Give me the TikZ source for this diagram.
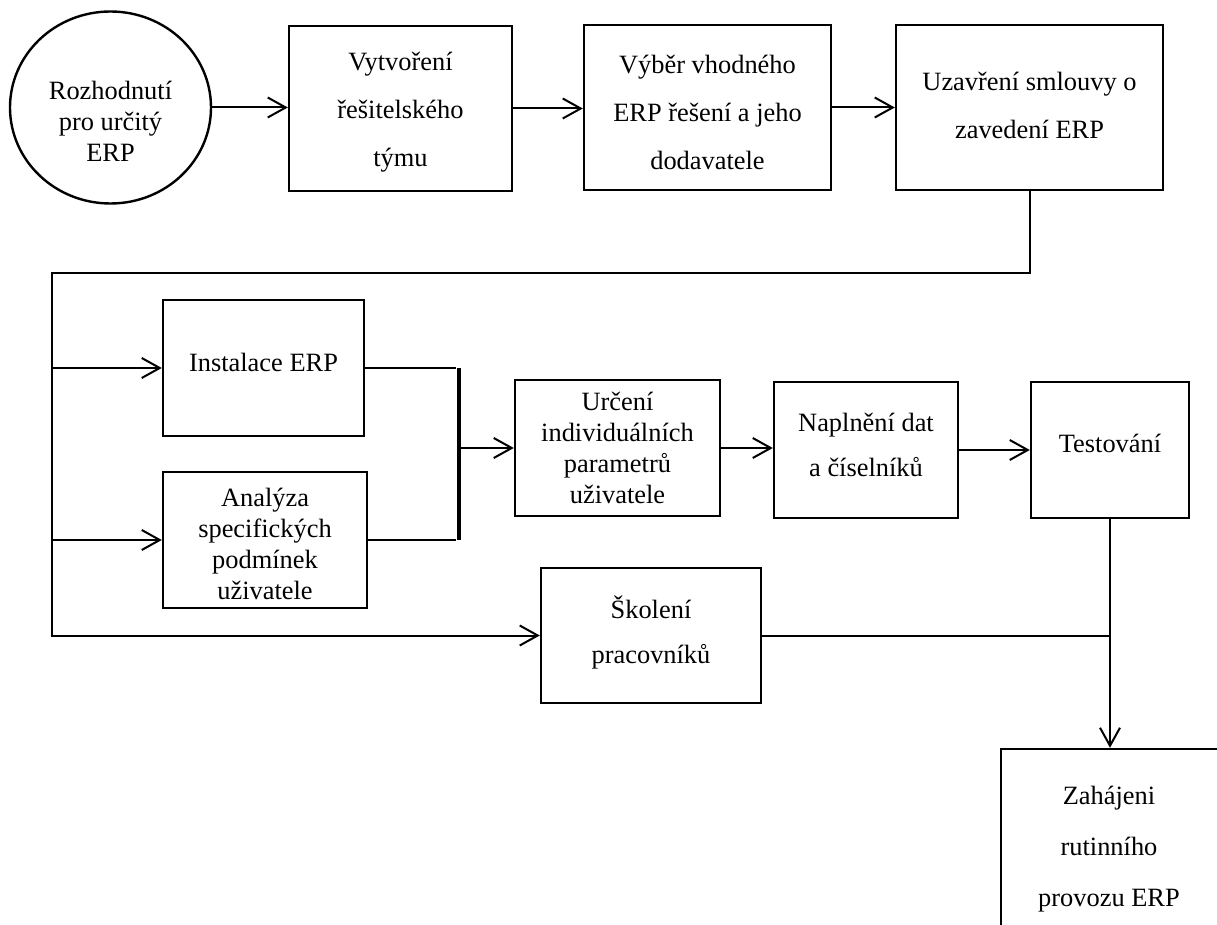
\documentclass[tikz,border=0pt]{standalone}
\usepackage{fontspec}
\setmainfont{Liberation Serif}
\usetikzlibrary{arrows.meta,shapes.geometric}
\begin{document}
\begin{tikzpicture}[x=0.5pt,y=-0.5pt,
  box/.style={draw, line width=1.2pt, inner sep=0pt},
  lbl/.style={align=center, inner sep=0pt},
  wide/.style={font=\fontsize{13.2}{24}\selectfont},
  tight/.style={font=\fontsize{13.2}{15.5}\selectfont},
  mid/.style={font=\fontsize{13.2}{22.5}\selectfont},
  conn/.style={line width=1pt},
  arr/.style={conn, -{Straight Barb[length=9pt,width=10pt]}},
]
\useasboundingbox (0,0) rectangle (1217,925);
\clip (0,0) rectangle (1217,925);

% first row: frames
\node[draw, ellipse, line width=1.2pt, inner sep=0pt, minimum width=100.5pt, minimum height=96pt] (circ) at (110.5,107.5) {};
\node[box, minimum width=111.5pt, minimum height=82.5pt] (b1) at (400.5,108.5) {};
\node[box, minimum width=123.5pt, minimum height=82.5pt] (b2) at (707.5,107.5) {};
\node[box, minimum width=133.5pt, minimum height=82.5pt] (b3) at (1029.5,107.5) {};

% second row: frames
\node[box, minimum width=100.5pt, minimum height=68pt] (inst) at (263.5,368) {};
\node[box, minimum width=102pt, minimum height=68pt] (anal) at (265,540) {};
\node[box, minimum width=102.5pt, minimum height=68pt] (urc) at (617.5,448) {};
\node[box, minimum width=92pt, minimum height=68pt] (napl) at (866,450) {};
\node[box, minimum width=79pt, minimum height=68pt] (test) at (1110,450) {};
\node[box, minimum width=110pt, minimum height=67.5pt] (skol) at (651,635.5) {};

% final step, running off the page edge
\node[box, minimum width=108.5pt, minimum height=105.5pt] (zah) at (1109.5,854.5) {};

% texts
\node[lbl, tight] (circtxt) at (110.5,121) {Rozhodnutí\\pro určitý\\ERP};
\node[lbl, wide] (b1txt) at (400.5,112.5) {Vytvoření\\řešitelského\\týmu};
\node[lbl, wide] (b2txt) at (707.5,112) {Výběr vhodného\\ERP řešení a jeho\\dodavatele};
\node[lbl, wide] (b3txt) at (1029.5,105.5) {Uzavření smlouvy o\\zavedení ERP};
\node[lbl, wide] (insttxt) at (263.5,362) {Instalace ERP};
\node[lbl, tight] (analtxt) at (265,543.5) {Analýza\\specifických\\podmínek\\uživatele};
\node[lbl, tight] (urctxt) at (617.5,448) {Určení\\individuálních\\parametrů\\uživatele};
\node[lbl, mid] (napltxt) at (866,445) {Naplnění dat\\a číselníků};
\node[lbl, wide] (testtxt) at (1110,443) {Testování};
\node[lbl, mid] (skoltxt) at (651,632.5) {Školení\\pracovníků};
\node[lbl, font=\fontsize{13.2}{25.5}\selectfont] (zahtxt) at (1109,849) {Zahájeni\\rutinního\\provozu ERP};

% connectors of the first row
\draw[arr] (circ.east) -- (circ.east -| b1.west);
\draw[arr] (b1.east) -- (b1.east -| b2.west);
\draw[arr] (b2.east) -- (b2.east -| b3.west);

% feed line to the parallel steps
\coordinate (c1) at (52,273.5);
\draw[arr] (b3.south) |- (c1) |- (skol.west);
\draw[arr] (c1 |- inst.west) -- (inst.west);
\draw[arr] (c1 |- anal.west) -- (anal.west);

% join bar
\coordinate (bar) at (459,450);
\draw[conn] (inst.east) -- ([xshift=-1.5pt]inst.east -| bar);
\draw[conn] (anal.east) -- ([xshift=-1.5pt]anal.east -| bar);
\draw[line width=1.6pt] (bar |- inst.east) -- (bar |- anal.east);
\draw[arr] (bar |- urc.west) -- (urc.west);

\draw[arr] (urc.east) -- (urc.east -| napl.west);
\draw[arr] (napl.east) -- (napl.east -| test.west);

% into the final step
\draw[arr] (test.south) -- (test.south |- zah.north);
\draw[conn] (skol.east) -- (skol.east -| test.south);
\end{tikzpicture}
\end{document}
